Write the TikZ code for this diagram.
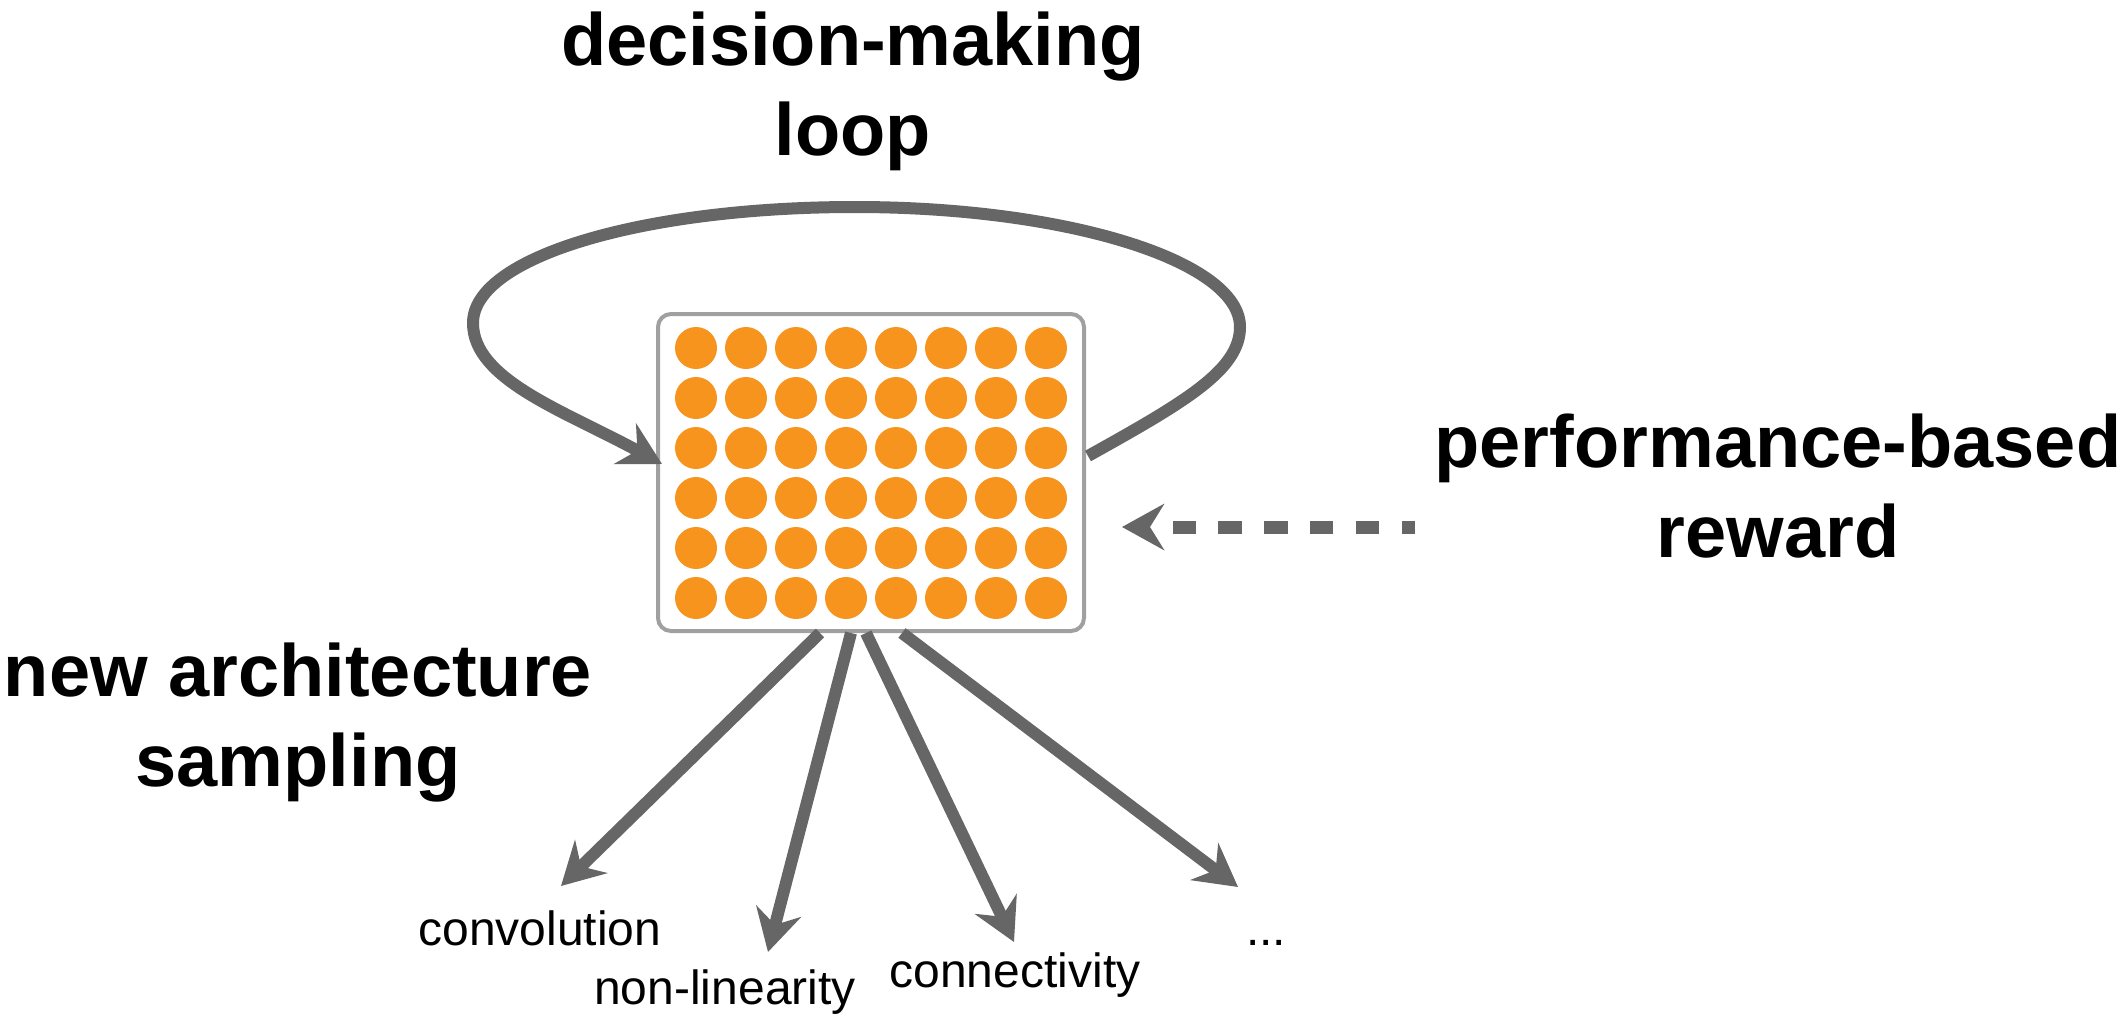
\documentclass[tikz,border=0pt]{standalone}
\usepackage{fontspec}
\setmainfont{Liberation Sans}
\usetikzlibrary{arrows.meta}
\definecolor{arrowgray}{HTML}{666666}
\definecolor{boxgray}{HTML}{A0A0A0}
\definecolor{dotorange}{HTML}{F7941E}
\begin{document}
\begin{tikzpicture}[x=0.5pt,y=-0.5pt,
  bigtip/.style={-{Stealth[length=21pt,width=23pt,inset=7pt]}},
  conn/.style={draw=arrowgray, line width=6pt, bigtip},
  dashconn/.style={conn, line width=6.5pt, dash pattern=on 11.7pt off 11.2pt, dash phase=5pt},
  title/.style={font=\fontsize{37}{45}\selectfont\bfseries, align=center, anchor=base, inner sep=0pt},
  choice/.style={font=\fontsize{24}{28}\selectfont, anchor=base, inner sep=0pt},
  dot/.style={circle, fill=dotorange, minimum size=21pt, inner sep=0pt},
  boxstyle/.style={draw=boxgray, line width=2pt, rounded corners=6.5pt, fill=white,
    minimum width=213pt, minimum height=158.5pt, inner sep=0pt},
]
\useasboundingbox (0,0) rectangle (2127,1023);
\fill[white] (0,0) rectangle (2127,1023);

% controller box with dots
\node[boxstyle] (box) at (871,472.5) {};
\foreach \i in {0,...,7}
  \foreach \j in {0,...,5}
    \node[dot] (d\i\j) at (696+50*\i, 348+50*\j) {};

% labels (anchor = baseline of the last line)
\node[title] (loopl) at (853,155) {decision-making\\loop};
\node[title] (rewardl) at (1778,557) {performance-based\\reward};
\node[title] (sampl) at (298,786) {new architecture\\sampling};

\node[choice] (conv) at (540,945) {convolution};
\node[choice] (nonlin) at (725,1004) {non-linearity};
\node[choice] (connect) at (1015,987) {connectivity};
\node[choice] (more) at (1266,945) {...};

% coordinates
\coordinate (loopA) at (1088,456);
\coordinate (loopB) at (662,464);
\coordinate (s1) at (820,633);
\coordinate (s2) at (851,633);
\coordinate (s3) at (866,633);
\coordinate (s4) at (902,633);
\coordinate (t1) at (561,886);
\coordinate (t2) at (768,952);
\coordinate (t3) at (1014,942);
\coordinate (t4) at (1238,887);
\coordinate (r0) at (1415,527);
\coordinate (r1) at (1122,527);

% decision-making loop
\draw[conn] (loopA) .. controls (1185,402) and (1240,370) .. (1240,327)
  .. controls (1240,261) and (1067,207) .. (855,207)
  .. controls (643,207) and (473,257) .. (473,323)
  .. controls (473,380) and (565,411) .. (loopB);

% reward
\draw[dashconn] (r0) -- (r1);

% sampling arrows
\draw[conn] (s1) -- (t1);
\draw[conn] (s2) -- (t2);
\draw[conn] (s3) -- (t3);
\draw[conn] (s4) -- (t4);
\end{tikzpicture}
\end{document}
